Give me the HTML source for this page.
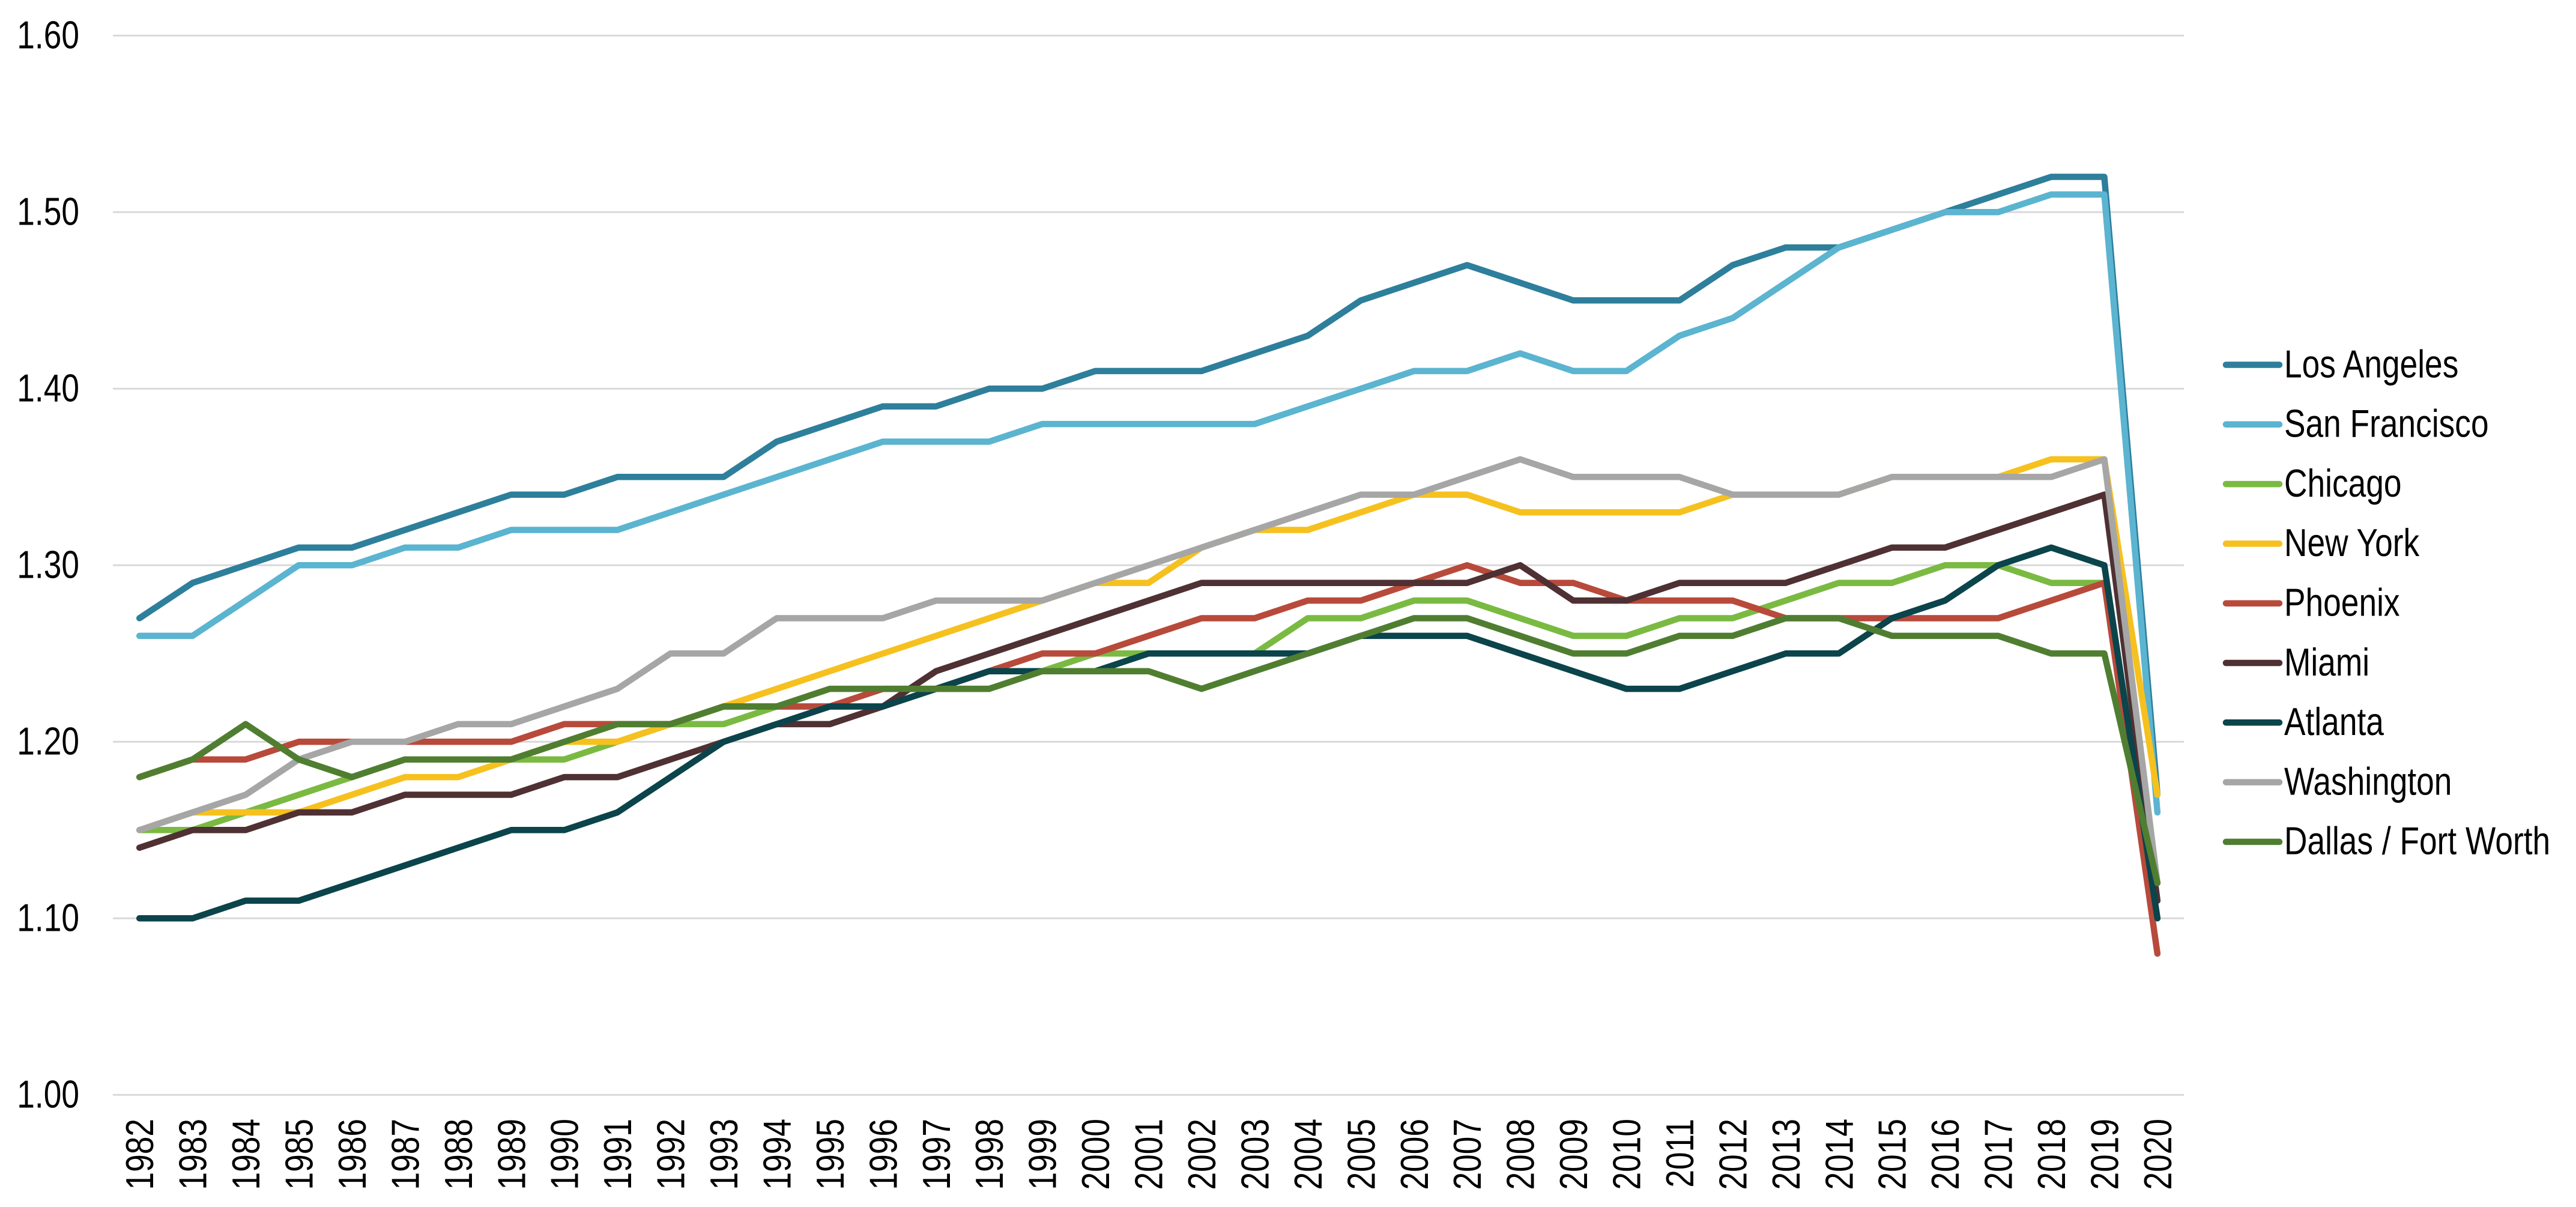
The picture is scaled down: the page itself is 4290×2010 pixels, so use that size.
<!DOCTYPE html>
<html>
<head>
<meta charset="utf-8">
<style>
html,body{margin:0;padding:0;background:#fff;}
svg{display:block;}
text{font-family:"Liberation Sans",Arial,sans-serif;font-size:65px;fill:#000;}
</style>
</head>
<body>
<svg width="4290" height="2010" viewBox="0 0 4290 2010" xmlns="http://www.w3.org/2000/svg">
<rect x="0" y="0" width="4290" height="2010" fill="#fff"/>
<!-- gridlines -->
<g stroke="#d9d9d9" stroke-width="3">
<line x1="188" x2="3637" y1="59.3" y2="59.3"/>
<line x1="188" x2="3637" y1="353.3" y2="353.3"/>
<line x1="188" x2="3637" y1="647.3" y2="647.3"/>
<line x1="188" x2="3637" y1="941.3" y2="941.3"/>
<line x1="188" x2="3637" y1="1235.3" y2="1235.3"/>
<line x1="188" x2="3637" y1="1529.3" y2="1529.3"/>
<line x1="188" x2="3637" y1="1823.3" y2="1823.3"/>
</g>
<!-- y labels -->
<g text-anchor="end">
<text transform="translate(132,80.7) scale(0.82,1)">1.60</text>
<text transform="translate(132,374.7) scale(0.82,1)">1.50</text>
<text transform="translate(132,668.7) scale(0.82,1)">1.40</text>
<text transform="translate(132,962.7) scale(0.82,1)">1.30</text>
<text transform="translate(132,1256.7) scale(0.82,1)">1.20</text>
<text transform="translate(132,1550.7) scale(0.82,1)">1.10</text>
<text transform="translate(132,1844.7) scale(0.82,1)">1.00</text>
</g>
<!-- x labels -->
<g text-anchor="end">
<text transform="translate(255.2,1863) rotate(-90) scale(0.82,1)">1982</text>
<text transform="translate(343.6,1863) rotate(-90) scale(0.82,1)">1983</text>
<text transform="translate(432.1,1863) rotate(-90) scale(0.82,1)">1984</text>
<text transform="translate(520.5,1863) rotate(-90) scale(0.82,1)">1985</text>
<text transform="translate(609.0,1863) rotate(-90) scale(0.82,1)">1986</text>
<text transform="translate(697.4,1863) rotate(-90) scale(0.82,1)">1987</text>
<text transform="translate(785.8,1863) rotate(-90) scale(0.82,1)">1988</text>
<text transform="translate(874.3,1863) rotate(-90) scale(0.82,1)">1989</text>
<text transform="translate(962.7,1863) rotate(-90) scale(0.82,1)">1990</text>
<text transform="translate(1051.2,1863) rotate(-90) scale(0.82,1)">1991</text>
<text transform="translate(1139.6,1863) rotate(-90) scale(0.82,1)">1992</text>
<text transform="translate(1228.0,1863) rotate(-90) scale(0.82,1)">1993</text>
<text transform="translate(1316.5,1863) rotate(-90) scale(0.82,1)">1994</text>
<text transform="translate(1404.9,1863) rotate(-90) scale(0.82,1)">1995</text>
<text transform="translate(1493.4,1863) rotate(-90) scale(0.82,1)">1996</text>
<text transform="translate(1581.8,1863) rotate(-90) scale(0.82,1)">1997</text>
<text transform="translate(1670.2,1863) rotate(-90) scale(0.82,1)">1998</text>
<text transform="translate(1758.7,1863) rotate(-90) scale(0.82,1)">1999</text>
<text transform="translate(1847.1,1863) rotate(-90) scale(0.82,1)">2000</text>
<text transform="translate(1935.6,1863) rotate(-90) scale(0.82,1)">2001</text>
<text transform="translate(2024.0,1863) rotate(-90) scale(0.82,1)">2002</text>
<text transform="translate(2112.4,1863) rotate(-90) scale(0.82,1)">2003</text>
<text transform="translate(2200.9,1863) rotate(-90) scale(0.82,1)">2004</text>
<text transform="translate(2289.3,1863) rotate(-90) scale(0.82,1)">2005</text>
<text transform="translate(2377.8,1863) rotate(-90) scale(0.82,1)">2006</text>
<text transform="translate(2466.2,1863) rotate(-90) scale(0.82,1)">2007</text>
<text transform="translate(2554.6,1863) rotate(-90) scale(0.82,1)">2008</text>
<text transform="translate(2643.1,1863) rotate(-90) scale(0.82,1)">2009</text>
<text transform="translate(2731.5,1863) rotate(-90) scale(0.82,1)">2010</text>
<text transform="translate(2820.0,1863) rotate(-90) scale(0.82,1)">2011</text>
<text transform="translate(2908.4,1863) rotate(-90) scale(0.82,1)">2012</text>
<text transform="translate(2996.8,1863) rotate(-90) scale(0.82,1)">2013</text>
<text transform="translate(3085.3,1863) rotate(-90) scale(0.82,1)">2014</text>
<text transform="translate(3173.7,1863) rotate(-90) scale(0.82,1)">2015</text>
<text transform="translate(3262.2,1863) rotate(-90) scale(0.82,1)">2016</text>
<text transform="translate(3350.6,1863) rotate(-90) scale(0.82,1)">2017</text>
<text transform="translate(3439.0,1863) rotate(-90) scale(0.82,1)">2018</text>
<text transform="translate(3527.5,1863) rotate(-90) scale(0.82,1)">2019</text>
<text transform="translate(3615.9,1863) rotate(-90) scale(0.82,1)">2020</text>
</g>
<!-- series -->
<g transform="translate(232.2,1823.3) scale(88.44,-29.4)" fill="none" stroke-width="10.5" stroke-linejoin="round" stroke-linecap="round">
<polyline vector-effect="non-scaling-stroke" stroke="#2e7f9b" points="0,27 1,29 2,30 3,31 4,31 5,32 6,33 7,34 8,34 9,35 10,35 11,35 12,37 13,38 14,39 15,39 16,40 17,40 18,41 19,41 20,41 21,42 22,43 23,45 24,46 25,47 26,46 27,45 28,45 29,45 30,47 31,48 32,48 33,49 34,50 35,51 36,52 37,52 38,17"/>
<polyline vector-effect="non-scaling-stroke" stroke="#5bb4d0" points="0,26 1,26 2,28 3,30 4,30 5,31 6,31 7,32 8,32 9,32 10,33 11,34 12,35 13,36 14,37 15,37 16,37 17,38 18,38 19,38 20,38 21,38 22,39 23,40 24,41 25,41 26,42 27,41 28,41 29,43 30,44 31,46 32,48 33,49 34,50 35,50 36,51 37,51 38,16"/>
<polyline vector-effect="non-scaling-stroke" stroke="#7aba42" points="0,15 1,15 2,16 3,17 4,18 5,19 6,19 7,19 8,19 9,20 10,21 11,21 12,22 13,22 14,22 15,23 16,23 17,24 18,25 19,25 20,25 21,25 22,27 23,27 24,28 25,28 26,27 27,26 28,26 29,27 30,27 31,28 32,29 33,29 34,30 35,30 36,29 37,29 38,12"/>
<polyline vector-effect="non-scaling-stroke" stroke="#f6c11f" points="0,15 1,16 2,16 3,16 4,17 5,18 6,18 7,19 8,20 9,20 10,21 11,22 12,23 13,24 14,25 15,26 16,27 17,28 18,29 19,29 20,31 21,32 22,32 23,33 24,34 25,34 26,33 27,33 28,33 29,33 30,34 31,34 32,34 33,35 34,35 35,35 36,36 37,36 38,17"/>
<polyline vector-effect="non-scaling-stroke" stroke="#b84a3b" points="0,18 1,19 2,19 3,20 4,20 5,20 6,20 7,20 8,21 9,21 10,21 11,22 12,22 13,22 14,23 15,23 16,24 17,25 18,25 19,26 20,27 21,27 22,28 23,28 24,29 25,30 26,29 27,29 28,28 29,28 30,28 31,27 32,27 33,27 34,27 35,27 36,28 37,29 38,8"/>
<polyline vector-effect="non-scaling-stroke" stroke="#4f3033" points="0,14 1,15 2,15 3,16 4,16 5,17 6,17 7,17 8,18 9,18 10,19 11,20 12,21 13,21 14,22 15,24 16,25 17,26 18,27 19,28 20,29 21,29 22,29 23,29 24,29 25,29 26,30 27,28 28,28 29,29 30,29 31,29 32,30 33,31 34,31 35,32 36,33 37,34 38,11"/>
<polyline vector-effect="non-scaling-stroke" stroke="#0b444b" points="0,10 1,10 2,11 3,11 4,12 5,13 6,14 7,15 8,15 9,16 10,18 11,20 12,21 13,22 14,22 15,23 16,24 17,24 18,24 19,25 20,25 21,25 22,25 23,26 24,26 25,26 26,25 27,24 28,23 29,23 30,24 31,25 32,25 33,27 34,28 35,30 36,31 37,30 38,10"/>
<polyline vector-effect="non-scaling-stroke" stroke="#a6a6a6" points="0,15 1,16 2,17 3,19 4,20 5,20 6,21 7,21 8,22 9,23 10,25 11,25 12,27 13,27 14,27 15,28 16,28 17,28 18,29 19,30 20,31 21,32 22,33 23,34 24,34 25,35 26,36 27,35 28,35 29,35 30,34 31,34 32,34 33,35 34,35 35,35 36,35 37,36 38,12"/>
<polyline vector-effect="non-scaling-stroke" stroke="#507e31" points="0,18 1,19 2,21 3,19 4,18 5,19 6,19 7,19 8,20 9,21 10,21 11,22 12,22 13,23 14,23 15,23 16,23 17,24 18,24 19,24 20,23 21,24 22,25 23,26 24,27 25,27 26,26 27,25 28,25 29,26 30,26 31,27 32,27 33,26 34,26 35,26 36,25 37,25 38,12"/>
</g>
<!-- legend -->
<g stroke-width="10.5" stroke-linecap="round">
<line x1="3707" x2="3796" y1="607.5" y2="607.5" stroke="#2e7f9b"/>
<line x1="3707" x2="3796" y1="706.8" y2="706.8" stroke="#5bb4d0"/>
<line x1="3707" x2="3796" y1="806.1" y2="806.1" stroke="#7aba42"/>
<line x1="3707" x2="3796" y1="905.4" y2="905.4" stroke="#f6c11f"/>
<line x1="3707" x2="3796" y1="1004.7" y2="1004.7" stroke="#b84a3b"/>
<line x1="3707" x2="3796" y1="1104.0" y2="1104.0" stroke="#4f3033"/>
<line x1="3707" x2="3796" y1="1203.3" y2="1203.3" stroke="#0b444b"/>
<line x1="3707" x2="3796" y1="1302.6" y2="1302.6" stroke="#a6a6a6"/>
<line x1="3707" x2="3796" y1="1401.9" y2="1401.9" stroke="#507e31"/>
</g>
<g>
<text transform="translate(3804,628.3) scale(0.82,1)">Los Angeles</text>
<text transform="translate(3804,727.6) scale(0.82,1)">San Francisco</text>
<text transform="translate(3804,826.9) scale(0.82,1)">Chicago</text>
<text transform="translate(3804,926.2) scale(0.82,1)">New York</text>
<text transform="translate(3804,1025.5) scale(0.82,1)">Phoenix</text>
<text transform="translate(3804,1124.8) scale(0.82,1)">Miami</text>
<text transform="translate(3804,1224.1) scale(0.82,1)">Atlanta</text>
<text transform="translate(3804,1323.4) scale(0.82,1)">Washington</text>
<text transform="translate(3804,1422.7) scale(0.82,1)">Dallas / Fort Worth</text>
</g>
</svg>
</body>
</html>
